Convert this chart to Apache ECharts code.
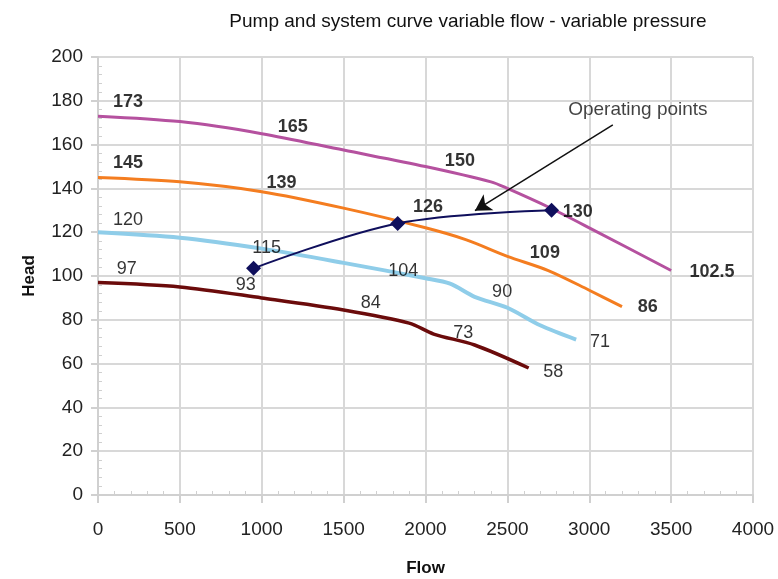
<!DOCTYPE html>
<html>
<head>
<meta charset="utf-8">
<script src="https://cdn.jsdelivr.net/npm/echarts@6/dist/echarts.min.js"></script>
<style>
  html, body { margin: 0; padding: 0; background: #fff; }
  #chart { width: 778px; height: 579px; }
</style>
</head>
<body>
<div id="chart"></div>
<script>
// pump curves, [flow, head]
const curve173 = [[0, 173], [500, 170.5], [1000, 165], [1500, 157.5], [2000, 150], [2400, 143], [2500, 140], [2750, 131.5], [3000, 122], [3500, 102.5]];
const curve145 = [[0, 145], [500, 143], [1000, 138.5], [1500, 131], [2000, 122], [2250, 116.5], [2500, 109], [2750, 102.5], [3000, 93.5], [3200, 86]];
const curve120 = [[0, 120], [500, 117.5], [1000, 112.5], [1500, 106], [2000, 99], [2150, 96.5], [2300, 90.5], [2500, 85.5], [2700, 77.5], [2920, 71]];
const curve97 = [[0, 97], [500, 95], [1000, 90], [1500, 84.5], [1900, 78.5], [2050, 73.5], [2300, 68.5], [2630, 58]];
const operatingPoints = [[950, 103.5], [1830, 124], [2770, 130]];

// value labels placed where they sit on the picture: [flow, head, text]
const labels173 = [[183, 179.5, '173'], [1190, 168, '165'], [2210, 152.5, '150'], [3750, 102, '102.5']];
const labels145 = [[183, 151.6, '145'], [1121, 142.3, '139'], [2015, 131.4, '126'], [2930, 129.4, '130'], [2729, 110.4, '109'], [3358, 86, '86']];
const labels120 = [[183, 125.6, '120'], [1030, 112.6, '115'], [1864, 102.4, '104'], [2468, 92.8, '90'], [3065, 70, '71']];
const labels97 = [[175, 103, '97'], [902, 95.9, '93'], [1665, 87.8, '84'], [2231, 73.8, '73'], [2780, 56.3, '58']];

const arrowFrom = [3144, 169];
const arrowTo = [2302, 129.8];
const noteText = [[3297, 175.8, 'Operating points']];

const FONT = "'Liberation Sans', Arial, sans-serif";

const chart = echarts.init(document.getElementById('chart'));

function curve(data, color, width) {
  return {
    type: 'line', data: data, smooth: 0.3, symbol: 'none', z: 3,
    lineStyle: { color: color, width: width }
  };
}

function labelSeries(list, bold) {
  return {
    type: 'scatter', symbolSize: 0, z: 6, silent: true,
    data: list.map(l => ({ value: [l[0], l[1]], name: l[2] })),
    label: {
      show: true, position: 'inside', formatter: '{b}',
      fontFamily: FONT, fontSize: 18, color: '#000',
      fontWeight: bold ? 'bold' : 'normal'
    }
  };
}

const option = {
  animation: false,
  backgroundColor: '#fff',
  title: {
    text: 'Pump and system curve variable flow - variable pressure',
    left: 463, top: 7, textAlign: 'center',
    textStyle: { fontFamily: FONT, fontSize: 19, fontWeight: 'normal', color: '#111' }
  },
  grid: { left: 98, right: 25, top: 57, bottom: 84, containLabel: false, outerBoundsMode: 'none' },
  xAxis: {
    type: 'value', min: 0, max: 4000, interval: 500,
    name: 'Flow', nameLocation: 'middle', nameGap: 65,
    nameTextStyle: { fontFamily: FONT, fontSize: 17, fontWeight: 'bold', color: '#111' },
    axisLine: { show: true, lineStyle: { color: '#d0d0d0', width: 2 } },
    axisTick: { show: true, length: 8, lineStyle: { color: '#d0d0d0', width: 2 } },
    minorTick: { show: true, splitNumber: 5, length: -4, lineStyle: { color: '#d0d0d0' } },
    axisLabel: { fontFamily: FONT, fontSize: 19, color: '#222', margin: 25, formatter: v => String(v) },
    splitLine: { show: true, lineStyle: { color: '#d8d8d8', width: 2 } }
  },
  yAxis: {
    type: 'value', min: 0, max: 200, interval: 20,
    name: 'Head', nameLocation: 'middle', nameGap: 60, nameRotate: 90,
    nameTextStyle: { fontFamily: FONT, fontSize: 17, fontWeight: 'bold', color: '#111' },
    axisLine: { show: true, lineStyle: { color: '#d0d0d0', width: 2 } },
    axisTick: { show: true, length: 7, lineStyle: { color: '#d0d0d0', width: 2 } },
    minorTick: { show: true, splitNumber: 5, length: -4, lineStyle: { color: '#d0d0d0' } },
    axisLabel: { fontFamily: FONT, fontSize: 19, color: '#222', margin: 15 },
    splitLine: { show: true, lineStyle: { color: '#d8d8d8', width: 2 } }
  },
  series: [
    curve(curve173, '#b5519f', 3),
    curve(curve145, '#f47d20', 3),
    curve(curve120, '#8fcde9', 4),
    curve(curve97, '#6b0b0b', 3.5),
    {
      type: 'line', data: operatingPoints, smooth: 0.35, z: 5,
      symbol: 'diamond', symbolSize: 15,
      itemStyle: { color: '#0f0f5c' },
      lineStyle: { color: '#0f0f5c', width: 2 },
      markLine: {
        silent: true, symbol: ['none', 'arrow'], symbolSize: [14, 16],
        label: { show: false },
        lineStyle: { color: '#111', width: 1.5, type: 'solid' },
        data: [[{ coord: arrowFrom }, { coord: arrowTo }]]
      }
    },
    labelSeries(labels173, true),
    labelSeries(labels145, true),
    labelSeries(labels120, false),
    labelSeries(labels97, false),
    {
      type: 'scatter', symbolSize: 0, z: 6, silent: true,
      data: noteText.map(l => ({ value: [l[0], l[1]], name: l[2] })),
      label: {
        show: true, position: 'inside', formatter: '{b}',
        fontFamily: FONT, fontSize: 19, color: '#111'
      }
    }
  ]
};

chart.setOption(option);
</script>
</body>
</html>
